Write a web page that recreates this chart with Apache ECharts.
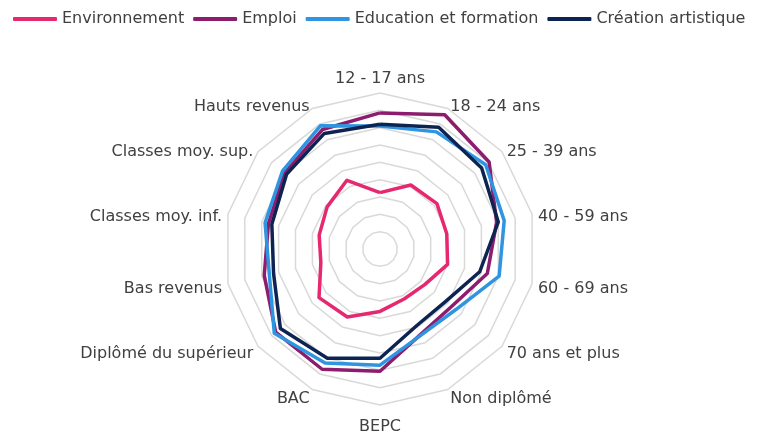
<!DOCTYPE html>
<html><head><meta charset="utf-8">
<script src="https://cdn.jsdelivr.net/npm/echarts@6/dist/echarts.min.js"></script>
<style>html,body{margin:0;padding:0;background:#fff}#c{width:757px;height:432px}</style>
</head><body><div id="c"></div>
<script>
const categories = ['12 - 17 ans','18 - 24 ans','25 - 39 ans','40 - 59 ans','60 - 69 ans','70 ans et plus','Non diplômé','BEPC','BAC','Diplômé du supérieur','Bas revenus','Classes moy. inf.','Classes moy. sup.','Hauts revenus'];
const seriesNames = ['Environnement','Emploi','Education et formation','Création artistique'];
const environnement = [32.5, 41, 42, 39.5, 40, 33, 32, 36, 43.5, 45, 35, 36, 39, 44];
const emploi = [78.5, 86, 80.5, 69, 63.5, 53, 54.5, 70.5, 77, 77, 68.5, 66, 70.5, 76.5];
const education = [71, 75, 78, 73.5, 70.5, 56, 55, 67, 73, 78, 65.5, 68, 72, 79];
const creation = [72, 78, 75, 70, 59, 48.5, 49, 63, 70, 73.5, 63, 64, 69, 74];
const axisMax = 90;
const colors = ['#E5286F','#8E1C6E','#2F95E0','#0D2452'];

// ECharts lays indicators counter-clockwise; reorder to draw clockwise
const order = categories.map((_, i) => (categories.length - i) % categories.length);
const allValues = [environnement, emploi, education, creation];

const chart = echarts.init(document.getElementById('c'));
chart.setOption({
  animation: false,
  color: colors,
  textStyle: { fontFamily: 'DejaVu Sans' },
  legend: {
    left: 8, top: 6,
    icon: 'roundRect', itemWidth: 44, itemHeight: 4, itemGap: 9,
    textStyle: { fontSize: 16, color: '#404040', fontFamily: 'DejaVu Sans' },
    data: seriesNames
  },
  radar: {
    center: [380, 249],
    radius: 156,
    startAngle: 90,
    splitNumber: 9,
    shape: 'polygon',
    nameGap: 6,
    axisName: {
      color: '#404040', fontSize: 16, fontFamily: 'DejaVu Sans',
      formatter: function (name) { return '{a|' + name + '}'; },
      rich: { a: { color: '#404040', fontSize: 16, fontFamily: 'DejaVu Sans', padding: [8, 0, 0, 0] } }
    },
    axisLine: { show: false },
    axisTick: { show: false },
    axisLabel: { show: false },
    splitArea: { show: false },
    splitLine: { lineStyle: { color: '#d9d9d9', width: 1.5 } },
    indicator: order.map(i => ({ name: categories[i], max: axisMax, min: 0 }))
  },
  series: [{
    type: 'radar',
    symbol: 'none',
    data: seriesNames.map((n, k) => ({
      name: n,
      value: order.map(i => allValues[k][i]),
      lineStyle: { color: colors[k], width: 3.5 },
      itemStyle: { color: colors[k] }
    }))
  }]
});
</script></body></html>
